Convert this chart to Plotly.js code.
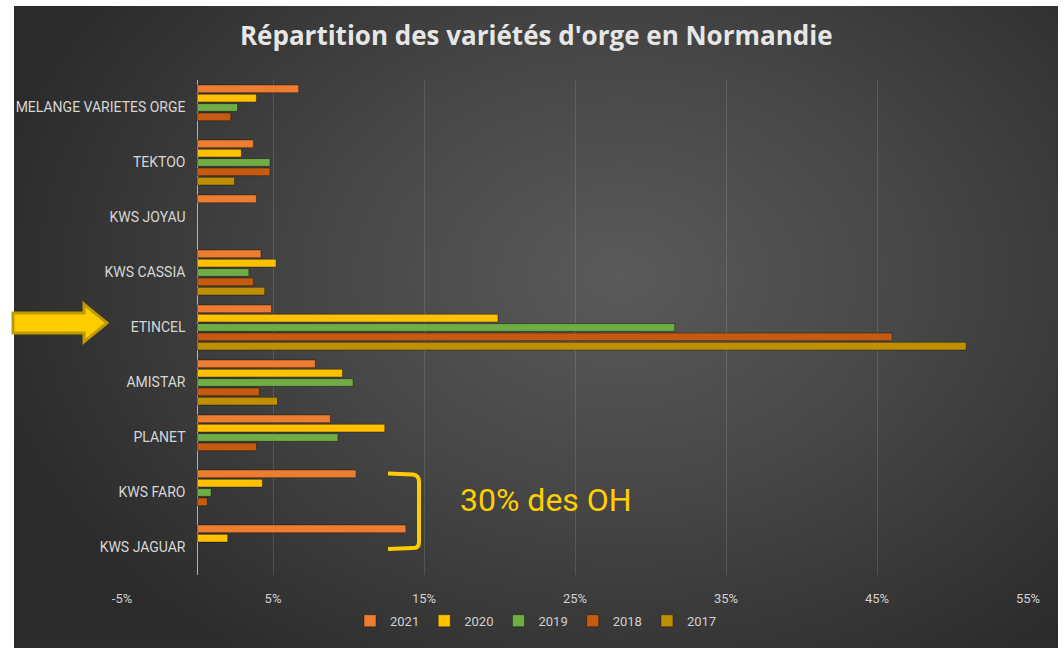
<!DOCTYPE html>
<html><head><meta charset="utf-8">
<script src="https://cdn.plot.ly/plotly-3.0.1.min.js"></script>
<style>
html,body{margin:0;padding:0;background:#fff;width:1064px;height:648px;overflow:hidden;}
#bg{position:absolute;left:14px;top:6px;width:1044px;height:642px;
background:radial-gradient(ellipse 62% 75% at 58% 42%, #5a5a5a 0%, #474747 45%, #2b2b2b 100%);}
#chart{position:absolute;left:0;top:0;width:1064px;height:648px;}
</style></head><body>
<div id="bg"></div>
<div id="chart"></div>
<script>
const categories = ["MELANGE VARIETES ORGE","TEKTOO","KWS JOYAU","KWS CASSIA","ETINCEL","AMISTAR","PLANET","KWS FARO","KWS JAGUAR"];
const years = ["2021","2020","2019","2018","2017"];
const v2021 = [6.7, 3.7, 3.9, 4.2, 4.9, 7.8, 8.8, 10.5, 13.8];
const v2020 = [3.9, 2.9, null, 5.2, 19.9, 9.6, 12.4, 4.3, 2.0];
const v2019 = [2.65, 4.8, null, 3.4, 31.6, 10.3, 9.3, 0.9, null];
const v2018 = [2.2, 4.8, null, 3.7, 46.0, 4.1, 3.9, 0.65, null];
const v2017 = [null, 2.45, null, 4.45, 50.9, 5.3, null, null, null];
const tickVals = [-5, 5, 15, 25, 35, 45, 55];
const tickText = ["-5%","5%","15%","25%","35%","45%","55%"];
const colors = ["#ED7D31","#FFC000","#70AD47","#C55A11","#BF8F00"];
const series = [v2021, v2020, v2019, v2018, v2017];

const traces = series.map((vals, i) => ({
  type: "bar", orientation: "h", name: years[i],
  y: categories, x: vals,
  marker: {color: colors[i], line: {color: "rgba(0,0,0,0.35)", width: 1}},
  hoverinfo: "x+y"
}));

// pixel helpers for the plot area (l=122, r=1028, t=80, b=577)
const L = 122, R = 1028, T = 80, B = 577;
const px = x => (x - L) / (R - L);
const py = y => (B - y) / (B - T);

const arrowPts = [[13,314],[84,314],[84,305],[107,324],[84,343],[84,334],[13,334]];
const arrowPath = "M " + arrowPts.map(p => px(p[0]) + "," + py(p[1])).join(" L ") + " Z";
const bracketPath = `M ${px(388)},${py(475)} L ${px(413)},${py(476)} Q ${px(419)},${py(477)} ${px(419)},${py(483)} L ${px(419)},${py(544)} Q ${px(419)},${py(550)} ${px(413)},${py(550)} L ${px(388)},${py(551)}`;

const layout = {
  width: 1064, height: 648,
  paper_bgcolor: "rgba(0,0,0,0)", plot_bgcolor: "rgba(0,0,0,0)",
  margin: {l: L, r: 1064 - R, t: T, b: 648 - B},
  barmode: "group", bargap: 0.15, bargroupgap: 0.18,
  title: {text: "Répartition des variétés d'orge en Normandie",
    font: {family: "Open Sans, sans-serif", size: 26, color: "#e6e6e6", weight: "bold"},
    x: 0.504, xref: "container", xanchor: "center", y: 1 - 36/648, yref: "container", yanchor: "middle"},
  xaxis: {range: [-5, 55], tickvals: tickVals, ticktext: tickText,
    showgrid: true, gridcolor: "rgba(255,255,255,0.13)", gridwidth: 1,
    zeroline: true, zerolinecolor: "#b0b0b0", zerolinewidth: 1,
    showline: false, ticks: "", ticklabelstandoff: 14,
    tickfont: {family: "Roboto, sans-serif", size: 13, color: "#d0d0d0"}, fixedrange: true},
  yaxis: {type: "category", autorange: "reversed", anchor: "free", position: 5/60,
    showgrid: false, zeroline: false, showline: false, ticks: "", ticklabelstandoff: 12,
    tickfont: {family: "Roboto, sans-serif", size: 14, color: "#d6d6d6"}, fixedrange: true},
  legend: {orientation: "h", x: px(536), xanchor: "center", y: py(623), yanchor: "middle",
    font: {family: "Roboto, sans-serif", size: 13, color: "#d0d0d0"}, bgcolor: "rgba(0,0,0,0)",
    itemwidth: 30, traceorder: "normal"},
  shapes: [
    {type: "path", xref: "paper", yref: "paper", path: arrowPath,
      fillcolor: "#FFCC00", line: {color: "#BF9A00", width: 3}},
    {type: "path", xref: "paper", yref: "paper", path: bracketPath,
      line: {color: "#FFCC00", width: 4}}
  ],
  annotations: [
    {text: "30% des OH", xref: "paper", yref: "paper", x: px(458), y: py(502),
      xanchor: "left", yanchor: "middle", showarrow: false,
      font: {family: "Roboto, sans-serif", size: 32, color: "#FFD000"}}
  ],
  showlegend: true
};

Plotly.newPlot("chart", traces, layout, {displayModeBar: false, staticPlot: true});
</script>
</body></html>
